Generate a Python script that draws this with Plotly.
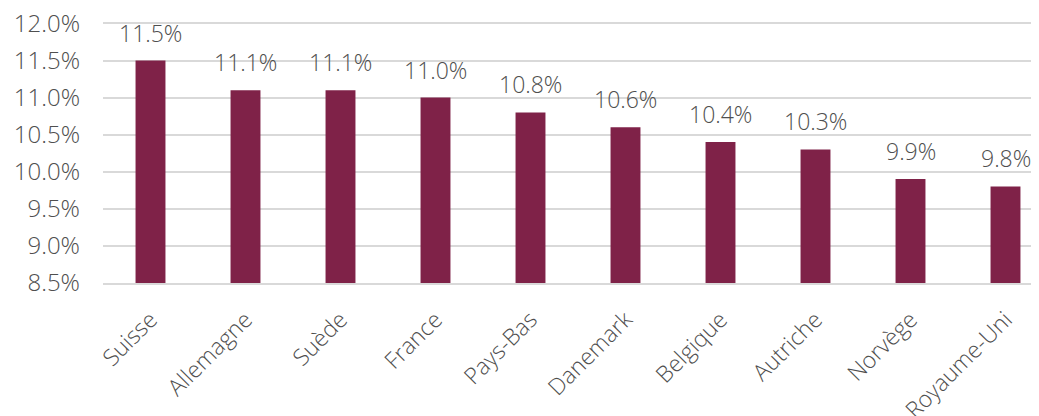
import plotly.graph_objects as go

categories = ["Suisse", "Allemagne", "Suède", "France", "Pays-Bas", "Danemark",
              "Belgique", "Autriche", "Norvège", "Royaume-Uni"]
values = [11.5, 11.1, 11.1, 11.0, 10.8, 10.6, 10.4, 10.3, 9.9, 9.8]
y_ticks = [8.5, 9.0, 9.5, 10.0, 10.5, 11.0, 11.5, 12.0]

FONT = "Open Sans"
TXT = "#4F4F4F"

fig = go.Figure(go.Bar(
    x=categories, y=values,
    marker=dict(color="#7F2248", line=dict(width=0)),
    hoverinfo="skip",
))

for c, v in zip(categories, values):
    fig.add_annotation(x=c, y=v, text=f"{v:.1f}%", showarrow=False,
                       yanchor="bottom", yshift=10,
                       font=dict(family=FONT, size=23, color=TXT, weight=300))

fig.update_layout(
    width=1050, height=408,
    margin=dict(l=95, r=5, t=14, b=133),
    paper_bgcolor="white", plot_bgcolor="white",
    bargap=0.685,
    showlegend=False,
    font=dict(family=FONT, color=TXT, weight=300),
)
fig.update_yaxes(
    range=[8.497, 12.02], tickvals=y_ticks,
    ticktext=[f"{t:.1f}%" for t in y_ticks],
    showgrid=True, gridcolor="#D9D9D9", gridwidth=1.5,
    zeroline=False, showline=False, automargin=False,
    tickfont=dict(family=FONT, size=24, color=TXT, weight=300),
    ticklabelstandoff=22, ticklabeloverflow="allow",
)
fig.update_xaxes(
    tickangle=-45, automargin=False,
    showline=True, linecolor="#D9D9D9", linewidth=2,
    tickfont=dict(family=FONT, size=23, color=TXT, weight=300),
    ticklabelstandoff=12, ticklabeloverflow="allow",
)

fig.write_html("out.html")
